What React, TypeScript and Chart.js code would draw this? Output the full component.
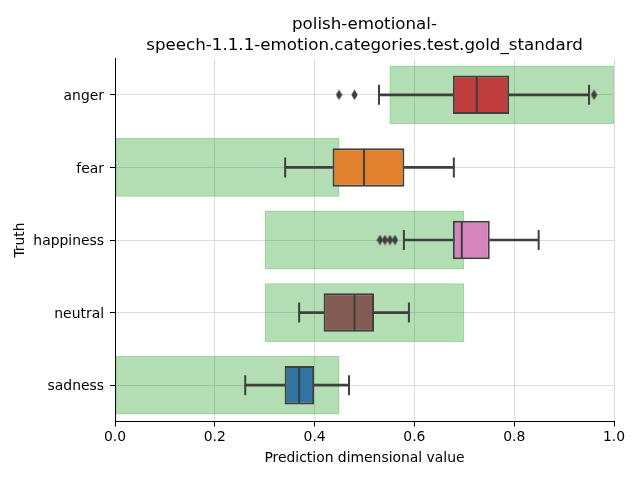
import React, { useEffect, useRef } from 'react';
import { Chart, registerables } from 'chart.js';

Chart.register(...registerables);

const categories = ['anger', 'fear', 'happiness', 'neutral', 'sadness'];
const rangeLow = [0.55, 0.0, 0.3, 0.3, 0.0];
const rangeHigh = [1.0, 0.45, 0.7, 0.7, 0.45];
const q1 = [0.677, 0.436, 0.677, 0.418, 0.34];
const median = [0.725, 0.499, 0.695, 0.48, 0.369];
const q3 = [0.79, 0.58, 0.751, 0.519, 0.399];
const whiskerLow = [0.529, 0.341, 0.579, 0.369, 0.261];
const whiskerHigh = [0.95, 0.679, 0.849, 0.589, 0.469];
const boxColors = ['#c03d3e', '#e1812c', '#d684bd', '#845b53', '#3274a1'];
const outlierCategory = ['anger', 'anger', 'anger', 'happiness', 'happiness', 'happiness', 'happiness'];
const outlierValues = [0.449, 0.48, 0.96, 0.531, 0.541, 0.551, 0.561];
const titleLines = ['polish-emotional-', 'speech-1.1.1-emotion.categories.test.gold_standard'];
const xTitle = 'Prediction dimensional value';
const yTitle = 'Truth';

const LINE = '#3f3f3f';
const FONT = 'DejaVu Sans';

export default function App() {
  const ref = useRef<HTMLCanvasElement>(null);

  useEffect(() => {
    if (!ref.current) return;

    const diamond = document.createElement('canvas');
    diamond.width = 7;
    diamond.height = 11;
    const dc = diamond.getContext('2d')!;
    dc.fillStyle = LINE;
    dc.beginPath();
    dc.moveTo(3.5, 0.3);
    dc.lineTo(6.7, 5.5);
    dc.lineTo(3.5, 10.7);
    dc.lineTo(0.3, 5.5);
    dc.closePath();
    dc.fill();

    const titlePlugin = {
      id: 'centeredTitle',
      afterDraw(chart: any) {
        const { ctx, chartArea } = chart;
        ctx.save();
        ctx.font = `16.7px "${FONT}"`;
        ctx.fillStyle = '#000';
        ctx.textAlign = 'center';
        ctx.textBaseline = 'middle';
        const cx = (chartArea.left + chartArea.right) / 2;
        titleLines.forEach((t, i) => ctx.fillText(t, cx, 24.5 + i * 21));
        ctx.restore();
      },
    };

    const pt = (vals: number[], cats: string[]) => vals.map((v, i) => ({ x: v, y: cats[i] }));

    const chart = new Chart(ref.current, {
      type: 'bar',
      data: {
        labels: categories,
        datasets: [
          {
            type: 'line',
            indexAxis: 'y',
            data: pt(outlierValues, outlierCategory),
            showLine: false,
            pointStyle: diamond,
            pointRadius: 5,
            order: 1,
          } as any,
          {
            type: 'line',
            indexAxis: 'y',
            data: [...pt(whiskerLow, categories), ...pt(whiskerHigh, categories)],
            showLine: false,
            pointStyle: 'line',
            pointRotation: 90,
            pointRadius: 10,
            pointBorderColor: LINE,
            pointBorderWidth: 2,
            order: 2,
          } as any,
          {
            type: 'line',
            indexAxis: 'y',
            data: pt(median, categories),
            showLine: false,
            pointStyle: 'line',
            pointRotation: 90,
            pointRadius: 18.5,
            pointBorderColor: LINE,
            pointBorderWidth: 2,
            order: 2,
          } as any,
          {
            type: 'bar',
            data: categories.map((_, i) => [q1[i], q3[i]]),
            backgroundColor: boxColors,
            borderColor: LINE,
            borderWidth: 2,
            borderSkipped: false,
            barPercentage: 0.53,
            categoryPercentage: 1,
            grouped: false,
            order: 3,
          } as any,
          {
            type: 'bar',
            data: categories.map((_, i) => [whiskerLow[i], q1[i]]),
            backgroundColor: LINE,
            borderWidth: 0,
            barThickness: 2,
            grouped: false,
            order: 4,
          } as any,
          {
            type: 'bar',
            data: categories.map((_, i) => [q3[i], whiskerHigh[i]]),
            backgroundColor: LINE,
            borderWidth: 0,
            barThickness: 2,
            grouped: false,
            order: 4,
          } as any,
          {
            type: 'bar',
            data: categories.map((_, i) => [rangeLow[i], rangeHigh[i]]),
            backgroundColor: 'rgba(44,160,44,0.36)',
            borderColor: 'rgba(44,160,44,0.45)',
            borderWidth: 1.5,
            borderSkipped: false,
            barPercentage: 0.81,
            categoryPercentage: 1,
            grouped: false,
            order: 10,
          } as any,
        ],
      },
      options: {
        indexAxis: 'y',
        responsive: false,
        animation: false,
        events: [],
        layout: { padding: { top: 58.5, right: 26, bottom: 0, left: 0 } },
        plugins: { legend: { display: false }, tooltip: { enabled: false }, title: { display: false } },
        scales: {
          x: {
            type: 'linear',
            min: 0,
            max: 1,
            ticks: {
              stepSize: 0.2,
              callback: (v: any) => Number(v).toFixed(1),
              color: '#000',
              font: { family: FONT, size: 13.9 },
              padding: 3,
            },
            grid: { color: '#dcdcdc', tickColor: '#000', tickLength: 5, lineWidth: 1 },
            border: { display: true, color: '#000', width: 1 },
            title: {
              display: true,
              text: xTitle,
              color: '#000',
              font: { family: FONT, size: 13.9 },
              padding: { top: 0, bottom: 13.5 },
            },
            afterFit: (s: any) => {
              s.height = 58.5;
            },
          },
          y: {
            type: 'category',
            offset: true,
            ticks: {
              color: '#000',
              font: { family: FONT, size: 13.9 },
              padding: 6,
              labelOffset: 1.5,
            },
            grid: { offset: false, color: '#dcdcdc', tickColor: '#000', tickLength: 5, lineWidth: 1 },
            border: { display: true, color: '#000', width: 1 },
            title: {
              display: true,
              text: yTitle,
              color: '#000',
              font: { family: FONT, size: 13.9 },
              padding: { top: 12, bottom: 0 },
            },
            afterFit: (s: any) => {
              s.width = 115;
            },
          },
        },
      } as any,
      plugins: [titlePlugin],
    });

    return () => chart.destroy();
  }, []);

  return (
    <div style={{ position: 'absolute', left: 0, top: 0, width: 640, height: 480, background: '#fff' }}>
      <canvas ref={ref} width={640} height={480} />
    </div>
  );
}
